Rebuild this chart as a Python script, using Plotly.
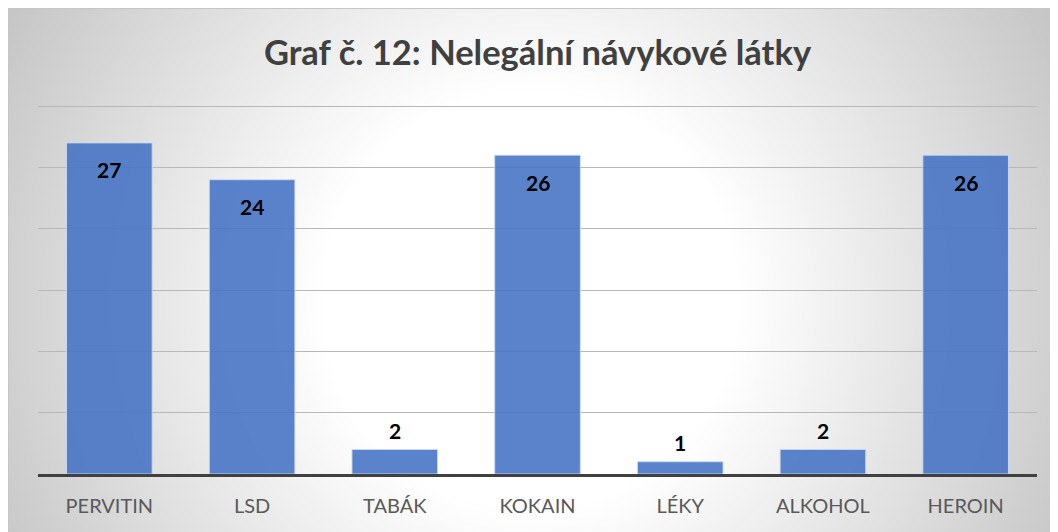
import base64
import struct
import zlib

import numpy as np
import plotly.graph_objects as go

# ---------------- data ----------------
categories = ["PERVITIN", "LSD", "TABÁK", "KOKAIN", "LÉKY", "ALKOHOL", "HEROIN"]
values = [27, 24, 2, 26, 1, 2, 26]
title_text = "Graf č. 12: Nelegální návykové látky"
y_top = 30.5

# ---------------- geometry / style ----------------
W, H = 1058, 532
ML, MR, MT, MB = 30, 29, 92, 66
PW, PH = W - ML - MR, H - MT - MB
FONT = "Lato, 'Open Sans', sans-serif"


def make_png(gray):
    h, w = gray.shape
    raw = b"".join(b"\x00" + gray[i].tobytes() for i in range(h))

    def chunk(tag, data):
        c = struct.pack(">I", len(data)) + tag + data
        return c + struct.pack(">I", zlib.crc32(tag + data) & 0xFFFFFFFF)

    ihdr = struct.pack(">IIBBBBB", w, h, 8, 0, 0, 0, 0)
    return (b"\x89PNG\r\n\x1a\n" + chunk(b"IHDR", ihdr)
            + chunk(b"IDAT", zlib.compress(raw, 9)) + chunk(b"IEND", b""))


# radial grey background of the whole chart area
yy, xx = np.mgrid[0:H, 0:W]
cx, cy = 522, 292
r = np.sqrt((xx - cx) ** 2 + (yy - cy) ** 2) / 630.0
t = np.clip((r - 0.333) / 0.667, 0, 1)
gray = (255 - 62 * t).astype(np.uint8)
bg_uri = "data:image/png;base64," + base64.b64encode(make_png(gray)).decode()

fig = go.Figure()
fig.add_trace(go.Bar(
    x=categories,
    y=values,
    marker=dict(color="rgba(68,114,196,0.88)",
                line=dict(color="rgba(205,218,242,0.9)", width=1)),
    hoverinfo="skip",
))

annotations = []
for c, v in zip(categories, values):
    inside = v > 5
    annotations.append(dict(
        x=c, y=v, xref="x", yref="y", text=str(v), showarrow=False,
        yanchor="middle", yshift=-27 if inside else 19,
        font=dict(family=FONT, size=21, color="#000000", weight="bold"),
    ))

fig.update_layout(
    width=W, height=H,
    margin=dict(l=ML, r=MR, t=MT, b=MB, pad=0),
    paper_bgcolor="white",
    plot_bgcolor="rgba(0,0,0,0)",
    showlegend=False,
    bargap=0.4,
    title=dict(text=title_text, x=0.5, xref="paper", y=1 - 45 / H,
               yref="container", yanchor="middle", xanchor="center",
               font=dict(family=FONT, size=34.5, color="#404040", weight="bold")),
    xaxis=dict(showline=True, linecolor="#404040", linewidth=3,
               showgrid=False, zeroline=False,
               ticks="outside", ticklen=12, tickcolor="rgba(0,0,0,0)",
               tickfont=dict(family=FONT, size=20, color="#595959")),
    yaxis=dict(range=[0, y_top], dtick=5, showgrid=True, gridcolor="#b8b8b8",
               gridwidth=1, showticklabels=False, zeroline=False, showline=False),
    annotations=annotations,
    images=[dict(source=bg_uri, xref="paper", yref="paper",
                 x=-ML / PW, y=(H - MB) / PH,
                 sizex=W / PW, sizey=H / PH,
                 xanchor="left", yanchor="top", sizing="stretch", layer="below")],
    shapes=[dict(type="rect", xref="paper", yref="paper",
                 x0=(-ML + 0.5) / PW, x1=(W + 5 - ML) / PW,
                 y0=(-MB - 5) / PH, y1=(H - MB - 0.5) / PH,
                 line=dict(color="#c6c6c6", width=1), fillcolor="rgba(0,0,0,0)",
                 layer="below")],
)

fig.write_html("out.html")
